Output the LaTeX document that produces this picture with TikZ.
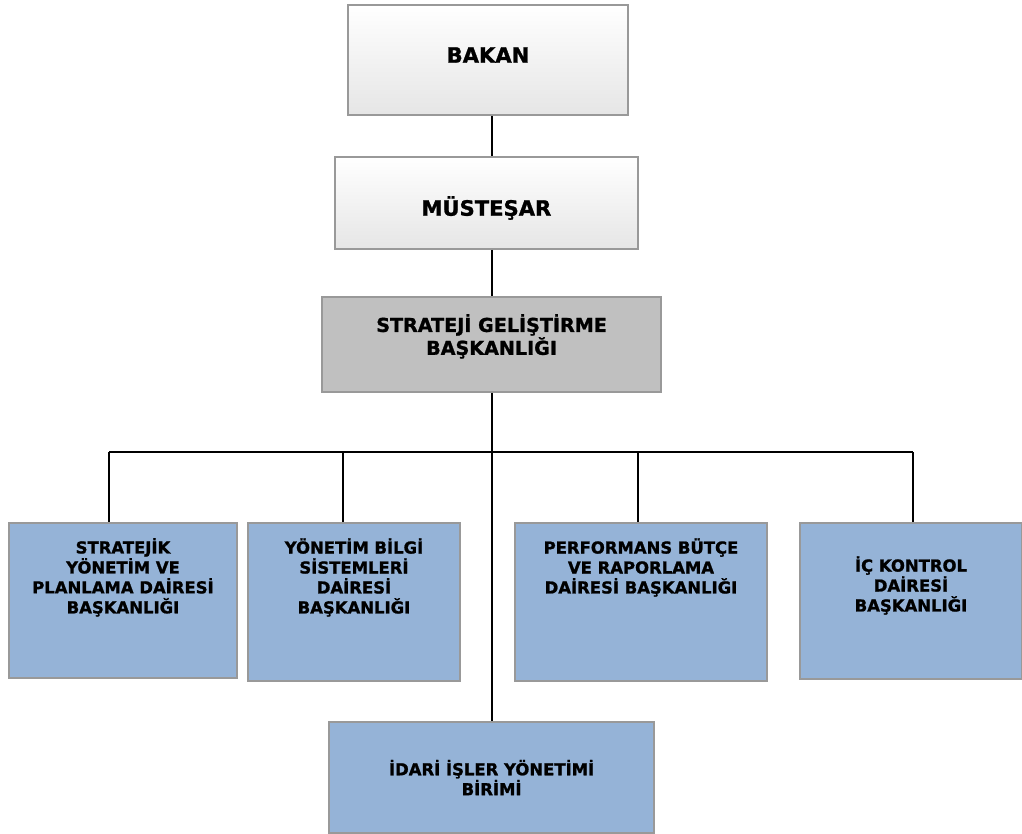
\documentclass[tikz,border=0pt]{standalone}
\usepackage{fontspec}
\setmainfont{DejaVu Sans}[BoldFeatures={FakeBold=1.2}]
\usetikzlibrary{positioning}
\definecolor{frame}{HTML}{999999}
\definecolor{unitblue}{HTML}{95B3D7}
\definecolor{headgray}{HTML}{C0C0C0}

\begin{document}
\begin{tikzpicture}[node distance=4mm,
  top/.style={draw=frame, line width=1.4pt, top color=white, bottom color=black!10},
  head/.style={draw=frame, line width=1.4pt, fill=headgray},
  unit/.style={draw=frame, line width=1.4pt, fill=unitblue},
  txt/.style={align=center, inner sep=0pt, font=\fontsize{11.7}{14.2}\selectfont\bfseries},
  bigtxt/.style={txt, font=\fontsize{13.6}{16.3}\selectfont\bfseries},
  toptxt/.style={txt, font=\fontsize{15}{18}\selectfont\bfseries},
  link/.style={draw=black, line width=1.3pt}
]
  \useasboundingbox (0,0) rectangle (25.55,-20.85);

  % top of the chart
  \node[top, minimum width=7cm, minimum height=2.75cm] (bakan) at (12.2,-1.5) {};
  \node[top, minimum width=7.575cm, minimum height=2.3cm] (mus) at (12.16,-5.075) {};
  \node[head, minimum width=8.475cm, minimum height=2.375cm] (sgb) at (12.29,-8.61) {};
  \node[toptxt] (bakant) at ([yshift=1.25mm]bakan) {BAKAN};
  \node[toptxt] (must) at ([yshift=-1.25mm]mus) {MÜSTEŞAR};
  \node[bigtxt, below=4.5mm of sgb.north] (sgbt) {STRATEJİ GELİŞTİRME\\BAŞKANLIĞI};

  % departments
  \node[unit, minimum width=5.7cm, minimum height=3.875cm] (smp) at (3.075,-15.01) {};
  \node[unit, minimum width=5.3cm, minimum height=3.95cm] (ybs) at (8.85,-15.05) {};
  \node[unit, minimum width=6.3cm, minimum height=3.95cm] (pbr) at (16.025,-15.05) {};
  \node[unit, minimum width=5.55cm, minimum height=3.9cm] (ick) at (22.775,-15.025) {};
  \node[unit, minimum width=8.125cm, minimum height=2.775cm] (idr) at (12.29,-19.44) {};

  \node[txt, below=of smp.north] (smpt) {STRATEJİK\\YÖNETİM VE\\PLANLAMA DAİRESİ\\BAŞKANLIĞI};
  \node[txt, below=of ybs.north] (ybst) {YÖNETİM BİLGİ\\SİSTEMLERİ\\DAİRESİ\\BAŞKANLIĞI};
  \node[txt, below=of pbr.north] (pbrt) {PERFORMANS BÜTÇE\\VE RAPORLAMA\\DAİRESİ BAŞKANLIĞI};
  \node[txt, below=8.5mm of ick.north] (ickt) {İÇ KONTROL\\DAİRESİ\\BAŞKANLIĞI};
  \node[txt] (idrt) at (idr) {İDARİ İŞLER YÖNETİMİ\\BİRİMİ};

  % lines
  \draw[link] (sgb.north |- bakan.south) -- (sgb.north |- mus.north);
  \draw[link] (sgb.north |- mus.south) -- (sgb.north);
  \draw[link] (sgb.south) -- (idr.north);
  \coordinate (bus) at ([yshift=-1.475cm]sgb.south);
  \coordinate (d1) at ([xshift=-3.5mm]smp.north);
  \coordinate (d2) at ([xshift=-2.75mm]ybs.north);
  \coordinate (d3) at ([xshift=-0.75mm]pbr.north);
  \coordinate (d4) at ([xshift=0.5mm]ick.north);
  \draw[link] (d1 |- bus) -- (d4 |- bus);
  \foreach \d in {d1,d2,d3,d4}
    \draw[link] (\d) -- (\d |- bus);
\end{tikzpicture}
\end{document}
